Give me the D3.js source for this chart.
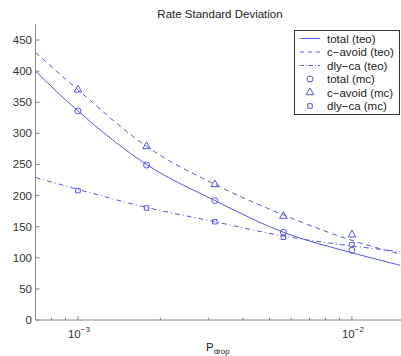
<!DOCTYPE html>
<html>
<head>
<meta charset="utf-8">
<script src="https://cdn.jsdelivr.net/npm/d3@7"></script>
<style>
  body { margin: 0; background: #fff; }
  svg { display: block; font-family: "Liberation Sans", Arial, sans-serif; }
</style>
</head>
<body>
<div id="chart"></div>
<script>
// theory curves
var teoP = [7e-4, 1e-3, 1.78e-3, 3.16e-3, 5.62e-3, 1e-2, 1.5e-2];
var totalTeo = [400, 336, 250, 192, 141, 108, 88];
var cavoidTeo = [430, 370, 279, 218, 169, 128, 106];
var dlycaTeo = [229, 210, 181, 158, 135, 119, 110];

// monte carlo points
var mcP = [1e-3, 1.78e-3, 3.16e-3, 5.62e-3, 1e-2];
var totalMc = [336, 249, 192, 141, 112];
var cavoidMc = [370, 279, 218, 167, 137];
var dlycaMc = [208, 180, 158, 133, 121];

var yTicks = [0, 50, 100, 150, 200, 250, 300, 350, 400, 450];
var legendLabels = ["total (teo)", "c\u2212avoid (teo)", "dly\u2212ca (teo)",
                    "total (mc)", "c\u2212avoid (mc)", "dly\u2212ca (mc)"];

var W = 401, H = 356;
var blue = "#5656e0";

var svg = d3.select("#chart").append("svg")
    .attr("width", W).attr("height", H);

var x = d3.scaleLog().domain([7e-4, 1.5e-2]).range([35.5, 400.2]);
var y = d3.scaleLinear().domain([0, 475]).range([320, 24.5]);

// title
svg.append("text")
    .attr("x", 220).attr("y", 18)
    .attr("text-anchor", "middle")
    .style("font-size", "11.5px").style("fill", "#222")
    .text("Rate Standard Deviation");

// y axis
var yAxis = svg.append("g");
yAxis.append("line")
    .attr("x1", x.range()[0]).attr("x2", x.range()[0])
    .attr("y1", y(0)).attr("y2", y(475))
    .attr("stroke", "#888");
yAxis.selectAll(".yt").data(yTicks).enter().append("line")
    .attr("x1", x.range()[0]).attr("x2", x.range()[0] + 4)
    .attr("y1", function (d) { return y(d); })
    .attr("y2", function (d) { return y(d); })
    .attr("stroke", "#888");
yAxis.selectAll(".yl").data(yTicks).enter().append("text")
    .attr("x", 32).attr("y", function (d) { return y(d) + 4; })
    .attr("text-anchor", "end")
    .style("font-size", "11.5px").style("fill", "#333")
    .text(function (d) { return d; });

// x axis
var xAxis = svg.append("g");
xAxis.append("line")
    .attr("x1", x.range()[0]).attr("x2", W)
    .attr("y1", y(0)).attr("y2", y(0))
    .attr("stroke", "#888");
var xt = x.ticks();
xAxis.selectAll(".xt").data(xt).enter().append("line")
    .attr("x1", function (d) { return x(d); })
    .attr("x2", function (d) { return x(d); })
    .attr("y1", y(0))
    .attr("y2", function (d) {
        var major = Math.abs(Math.log10(d) - Math.round(Math.log10(d))) < 1e-6;
        return y(0) - (major ? 4 : 2.5);
    })
    .attr("stroke", "#888");
var majors = xt.filter(function (d) {
    return Math.abs(Math.log10(d) - Math.round(Math.log10(d))) < 1e-6;
});
var xl = xAxis.selectAll(".xl").data(majors).enter().append("text")
    .attr("x", function (d) { return x(d) - 10; })
    .attr("y", 338)
    .style("font-size", "11.5px").style("fill", "#333");
xl.append("tspan").text("10");
xl.append("tspan")
    .attr("dy", -6)
    .style("font-size", "8px")
    .text(function (d) { return "\u2212" + Math.abs(Math.round(Math.log10(d))); });

// x label
var xlab = svg.append("text")
    .attr("x", 206).attr("y", 351)
    .style("font-size", "11.5px").style("fill", "#222");
xlab.append("tspan").text("P");
xlab.append("tspan").attr("dy", 3).style("font-size", "8px").text("drop");

// curves
var line = d3.line()
    .x(function (d) { return x(d[0]); })
    .y(function (d) { return y(d[1]); })
    .curve(d3.curveMonotoneX);

var series = [
    { vals: totalTeo, dash: null },
    { vals: cavoidTeo, dash: "5,4" },
    { vals: dlycaTeo, dash: "5,3,1,3" }
];
series.forEach(function (s) {
    svg.append("path")
        .datum(d3.zip(teoP, s.vals))
        .attr("d", line)
        .attr("fill", "none")
        .attr("stroke", blue)
        .attr("stroke-width", 1)
        .attr("stroke-dasharray", s.dash);
});

// markers
var circleSym = d3.symbol().type(d3.symbolCircle).size(28);
var triSym = d3.symbol().type(d3.symbolTriangle).size(26);
var sqSym = d3.symbol().type(d3.symbolSquare).size(20);

function markers(vals, sym) {
    svg.append("g").selectAll("path")
        .data(d3.zip(mcP, vals)).enter().append("path")
        .attr("transform", function (d) { return "translate(" + x(d[0]) + "," + y(d[1]) + ")"; })
        .attr("d", sym)
        .attr("fill", "none")
        .attr("stroke", blue)
        .attr("stroke-width", 1);
}
markers(totalMc, circleSym);
markers(cavoidMc, triSym);
markers(dlycaMc, sqSym);

// legend
var lg = svg.append("g");
lg.append("rect")
    .attr("x", 294.5).attr("y", 30.5)
    .attr("width", 105).attr("height", 84)
    .attr("fill", "#fff").attr("stroke", "#333");
var rowY = function (i) { return 38.5 + i * 13.5; };
var legDash = [null, "4,4", "4,2,1,2"];
var legSym = [circleSym, triSym, sqSym];
legendLabels.forEach(function (t, i) {
    if (i < 3) {
        lg.append("line")
            .attr("x1", 300).attr("x2", 320)
            .attr("y1", rowY(i)).attr("y2", rowY(i))
            .attr("stroke", blue)
            .attr("stroke-dasharray", legDash[i]);
    } else {
        lg.append("path")
            .attr("transform", "translate(310," + rowY(i) + ")")
            .attr("d", legSym[i - 3])
            .attr("fill", "none")
            .attr("stroke", blue);
    }
    lg.append("text")
        .attr("x", 327).attr("y", rowY(i) + 4)
        .style("font-size", "11.5px").style("fill", "#222")
        .text(t);
});
</script>
</body>
</html>
